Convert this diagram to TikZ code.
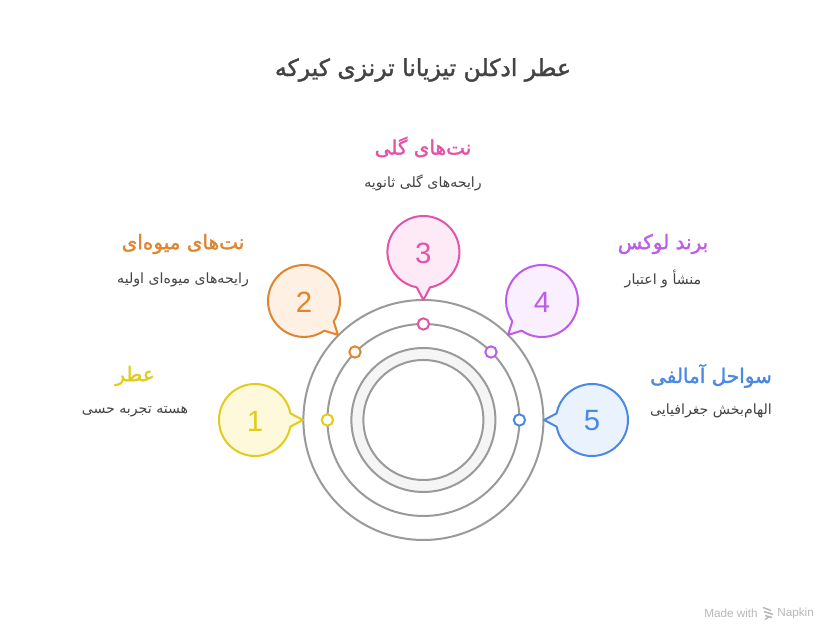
\documentclass[tikz,border=0pt]{standalone}
\usepackage{fontspec}
\setmainfont{Liberation Sans}
\newfontfamily\arabicfont[Script=Arabic]{DejaVu Sans}
\newfontfamily\arabichead[Script=Arabic,FakeBold=1.6]{DejaVu Sans}
\TeXXeTstate=1
\definecolor{ink}{HTML}{434343}
\definecolor{ringc}{HTML}{9A9A9A}
\definecolor{yel}{HTML}{E2CB1C}\definecolor{yelf}{HTML}{FEF9DB}
\definecolor{ora}{HTML}{E0852F}\definecolor{oraf}{HTML}{FEF0E3}
\definecolor{pnk}{HTML}{E254A8}\definecolor{pnkf}{HTML}{FEEAF6}
\definecolor{pur}{HTML}{BC5CE8}\definecolor{purf}{HTML}{F9EFFE}
\definecolor{blu}{HTML}{4A88E6}\definecolor{bluf}{HTML}{EAF2FE}
\tikzset{
  ring/.style={draw=ringc,line width=1.5pt},
  dot/.style={circle,draw=#1,fill=white,line width=1.5pt,minimum size=8.5pt,inner sep=0pt},
  numlabel/.style={font=\fontsize{22}{24}\selectfont,text=#1,inner sep=0pt},
  headlabel/.style={font=\arabichead\fontsize{15}{17}\selectfont,text=#1,inner sep=0pt},
  sublabel/.style={font=\arabicfont\fontsize{10.6}{12}\selectfont,text=ink,inner sep=0pt},
  titlelabel/.style={font=\arabichead\fontsize{17.6}{21}\selectfont,text=ink,inner sep=0pt},
  footlabel/.style={font=\fontsize{8.8}{10}\selectfont,text=black!28,inner sep=0pt,anchor=west},
}
\newcommand{\bubble}[5]{%
  \draw[draw=#4,fill=#5,line width=1.5pt,line join=round,shift={(#1,#2)},rotate=#3]
    (48,0) -- (10.6:36) arc (10.6:349.4:36) -- cycle;}
\begin{document}
\begin{tikzpicture}[x=0.75pt,y=0.75pt]
\useasboundingbox (0,0) rectangle (838,641);
\fill[white] (0,0) rectangle (838,641);
\coordinate (c) at (423.4,221);
\draw[ring] (c) circle (120);
\draw[ring] (c) circle (96);
\draw[ring,fill=black!4] (c) circle (72);
\draw[ring,fill=white] (c) circle (60);
\bubble{255}{221}{0}{yel}{yelf}
\bubble{304}{340}{-45}{ora}{oraf}
\bubble{423.4}{389}{-90}{pnk}{pnkf}
\bubble{542}{340}{225}{pur}{purf}
\bubble{592}{221}{180}{blu}{bluf}
\node[dot=yel] (d1) at (327.4,221) {};
\node[dot=ora] (d2) at (355,289) {};
\node[dot=pnk] (d3) at (423.4,317) {};
\node[dot=pur] (d4) at (491,289) {};
\node[dot=blu] (d5) at (519.4,221) {};
\node[numlabel=yel] (n1) at (255,220) {1};
\node[numlabel=ora] (n2) at (304,339) {2};
\node[numlabel=pnk] (n3) at (423.4,388) {3};
\node[numlabel=pur] (n4) at (542,339) {4};
\node[numlabel=blu] (n5) at (592,220) {5};
\node[titlelabel] (title) at (423,571) {\beginR عطر ادکلن تیزیانا ترنزی کیرکه\endR};
\node[headlabel=yel] (h1) at (135,265) {\beginR عطر\endR};
\node[sublabel] (s1) at (135,229) {\beginR هسته تجربه حسی\endR};
\node[headlabel=ora] (h2) at (183,397) {\beginR نت‌های میوه‌ای\endR};
\node[sublabel] (s2) at (183,361) {\beginR رایحه‌های میوه‌ای اولیه\endR};
\node[headlabel=pnk] (h3) at (423,494) {\beginR نت‌های گلی\endR};
\node[sublabel] (s3) at (423,458) {\beginR رایحه‌های گلی ثانویه\endR};
\node[headlabel=pur] (h4) at (663,397) {\beginR برند لوکس\endR};
\node[sublabel] (s4) at (663,362) {\beginR منشأ و اعتبار\endR};
\node[headlabel=blu] (h5) at (711,265) {\beginR سواحل آمالفی\endR};
\node[sublabel] (s5) at (711,230) {\beginR الهام‌بخش جغرافیایی\endR};
\node[footlabel] (m) at (704,28) {Made with};
\node[footlabel] (k) at (777,28) {Napkin};
\draw[black!28,line width=1.1pt]
  (763,33.5) -- (771,30.5)  (764,29.5) -- (773,26.5)  (765,25.5) -- (772,23.5)  (765,21.5) -- (769,24);
\end{tikzpicture}
\end{document}
